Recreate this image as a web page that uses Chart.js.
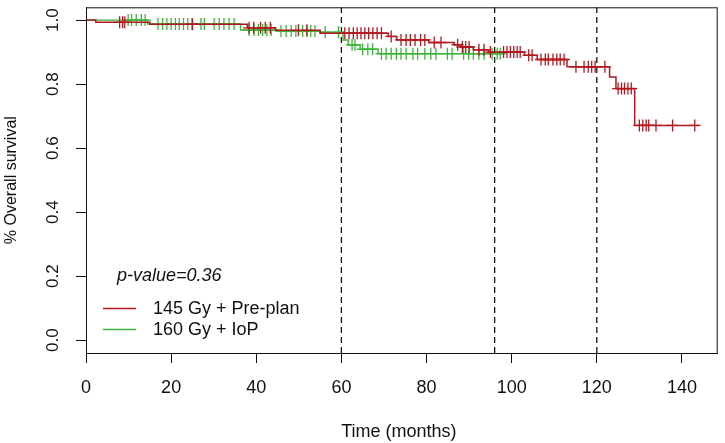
<!DOCTYPE html>
<html>
<head>
<meta charset="utf-8">
<script src="https://cdn.jsdelivr.net/npm/chart.js@4/dist/chart.umd.min.js"></script>
<style>
html,body{margin:0;padding:0;background:#fff;}
canvas{display:block;}
</style>
</head>
<body>
<canvas id="c" width="725" height="443"></canvas>
<script>
// ---- Data ----
const xTicks = [0, 20, 40, 60, 80, 100, 120, 140];
const yTicks = [0.0, 0.2, 0.4, 0.6, 0.8, 1.0];
const refLines = [60, 96, 120];

// 145 Gy + Pre-plan: event times and survival after each step
const redTimes = [0, 2.3, 15, 37.9, 44.5, 55, 71, 73, 80.5, 86.5, 88, 91, 94.5, 103, 106, 113, 123, 124.5, 128.9];
const redSurv  = [1.0, 0.993, 0.987, 0.976, 0.968, 0.959, 0.949, 0.938, 0.930, 0.923, 0.916, 0.907, 0.900, 0.890, 0.877, 0.854, 0.822, 0.786, 0.671];
const redEnd = 144;
const redCensor = [7.9, 8.6, 9.1, 25, 38.3, 39.4, 41, 42.1, 43.3, 49.9, 51.9, 60.8, 61.8, 62.8, 63.7, 64.6, 65.5, 66.4, 67.4, 68.4, 69.4,
  71.7, 74, 75.2, 76.2, 77.3, 78.6, 79.6, 81.8, 83.4, 87.3, 88.4, 89.2, 90, 92.3, 93.5, 95, 98.1, 98.9, 99.7, 100.5, 101.3, 102,
  104, 104.8, 106.9, 107.9, 108.6, 109.7, 110.6, 111.4, 112.3, 115.1, 117, 118, 118.8, 119.6, 121.9, 125, 125.8, 126.5, 127.3,
  128.1, 130, 130.8, 131.6, 132.2, 133.9, 137.8, 143];

// 160 Gy + IoP
const greenTimes = [0, 14.5, 36.3, 45, 55, 60.4, 61.6, 64.4, 68.6];
const greenSurv  = [1.0, 0.988, 0.969, 0.966, 0.962, 0.938, 0.923, 0.909, 0.895];
const greenEnd = 97.8;
const greenCensor = [9.9, 10.7, 11.8, 13, 13.9, 16.9, 18, 19, 20, 21, 21.9, 22.9, 23.9, 24.9, 27, 27.8, 30.1, 31.3, 32.4, 33.6, 34.8,
  38.3, 39.5, 40.5, 41.5, 42.5, 43.5, 45.8, 47, 48.2, 49.3, 50.9, 51.9, 52.8, 53.8, 56.2, 59.3, 62.5, 63.2, 65, 66.2, 67.3,
  69.4, 70.5, 71.7, 72.9, 74, 75.2, 76.8, 77.9, 79.6, 81, 82.2, 84.9, 86, 88.7, 89.9, 91, 92.3, 93.5, 95.4, 96.6, 97.3];

const seriesNames = ['145 Gy + Pre-plan', '160 Gy + IoP'];
const pValueText = 'p-value=0.36';

// ---- helpers ----
const RED = '#b3171f', GREEN = '#3cb53c', INK = '#111111';
function stepLine(times, surv, end) {
  const pts = [];
  for (let i = 0; i < times.length; i++) {
    if (i > 0) pts.push({x: times[i], y: surv[i - 1]});
    pts.push({x: times[i], y: surv[i]});
  }
  pts.push({x: end, y: surv[surv.length - 1]});
  return pts;
}
function survAt(times, surv, t) {
  let s = surv[0];
  for (let i = 0; i < times.length; i++) if (times[i] <= t) s = surv[i];
  return s;
}
function censorPts(times, surv, cens) {
  return cens.map(t => ({x: t, y: survAt(times, surv, t)}));
}

const datasets = [];
refLines.forEach(v => datasets.push({
  data: [{x: v, y: -0.04}, {x: v, y: 1.04}], showLine: true, borderColor: INK, borderWidth: 1.3,
  borderDash: [6, 4], pointRadius: 0, order: 5
}));
datasets.push({data: stepLine(greenTimes, greenSurv, greenEnd), showLine: true, borderColor: GREEN, borderWidth: 1.4, pointRadius: 0, order: 3});
datasets.push({data: censorPts(greenTimes, greenSurv, greenCensor), showLine: false, pointStyle: 'cross', pointRadius: 6, borderColor: GREEN, borderWidth: 1.3, order: 3});
datasets.push({data: stepLine(redTimes, redSurv, redEnd), showLine: true, borderColor: RED, borderWidth: 1.5, pointRadius: 0, order: 2});
datasets.push({data: censorPts(redTimes, redSurv, redCensor), showLine: false, pointStyle: 'cross', pointRadius: 6, borderColor: RED, borderWidth: 1.3, order: 2});

const FONT = '"Liberation Sans", Arial, sans-serif';

const decor = {
  id: 'decor',
  afterDraw(chart) {
    const ctx = chart.ctx, a = chart.chartArea, ys = chart.scales.y;
    ctx.save();
    ctx.strokeStyle = INK; ctx.lineWidth = 1;
    ctx.strokeRect(a.left + 0.5, a.top + 0.5, a.right - a.left - 1, a.bottom - a.top);
    ctx.fillStyle = INK;
    // y tick labels (rotated, R style)
    ctx.font = '17px ' + FONT;
    ctx.textAlign = 'center'; ctx.textBaseline = 'middle';
    yTicks.forEach(v => {
      const y = ys.getPixelForValue(v);
      ctx.save(); ctx.translate(53, y); ctx.rotate(-Math.PI / 2); ctx.fillText(v.toFixed(1), 0, 0); ctx.restore();
    });
    // axis titles
    ctx.save(); ctx.translate(12, (a.top + a.bottom) / 2); ctx.rotate(-Math.PI / 2);
    ctx.font = '16px ' + FONT; ctx.fillText('% Overall survival', 0, 0); ctx.restore();
    ctx.font = '18px ' + FONT;
    ctx.fillText('Time (months)', (a.left + a.right) / 2 - 3, 432);
    // p-value
    ctx.font = 'italic 18px ' + FONT; ctx.textAlign = 'left'; ctx.textBaseline = 'alphabetic';
    ctx.fillText(pValueText, 117, 281);
    // legend
    ctx.font = '18px ' + FONT; ctx.textBaseline = 'middle';
    [[RED, 308], [GREEN, 329]].forEach(([col, y], i) => {
      ctx.strokeStyle = col; ctx.lineWidth = 1.4;
      ctx.beginPath(); ctx.moveTo(103, y + 0.5); ctx.lineTo(136, y + 0.5); ctx.stroke();
      ctx.fillText(seriesNames[i], 153, y + 1);
    });
    ctx.restore();
  }
};

new Chart(document.getElementById('c'), {
  type: 'scatter',
  data: {datasets},
  options: {
    responsive: false, animation: false, devicePixelRatio: 1,
    layout: {padding: {top: 2, right: 3, left: 0, bottom: 0}},
    plugins: {legend: {display: false}, tooltip: {enabled: false}},
    scales: {
      x: {
        type: 'linear', position: 'bottom', min: 0, max: 148.4,
        afterBuildTicks: s => { s.ticks = xTicks.map(v => ({value: v})); },
        afterFit: s => { s.height = 90; s.paddingLeft = 0; s.paddingRight = 0; },
        grid: {display: true, drawOnChartArea: false, drawTicks: true, tickLength: 10, color: INK},
        border: {display: true, color: INK},
        ticks: {color: INK, font: {family: FONT, size: 18}, padding: 14, maxRotation: 0, autoSkip: false}
      },
      y: {
        type: 'linear', position: 'left', min: -0.04, max: 1.04,
        afterBuildTicks: s => { s.ticks = yTicks.map(v => ({value: v})); },
        afterFit: s => { s.width = 86; s.paddingTop = 0; s.paddingBottom = 0; },
        grid: {display: true, drawOnChartArea: false, drawTicks: true, tickLength: 10, color: INK},
        border: {display: true, color: INK},
        ticks: {display: false}
      }
    }
  },
  plugins: [decor]
});
</script>
</body>
</html>
